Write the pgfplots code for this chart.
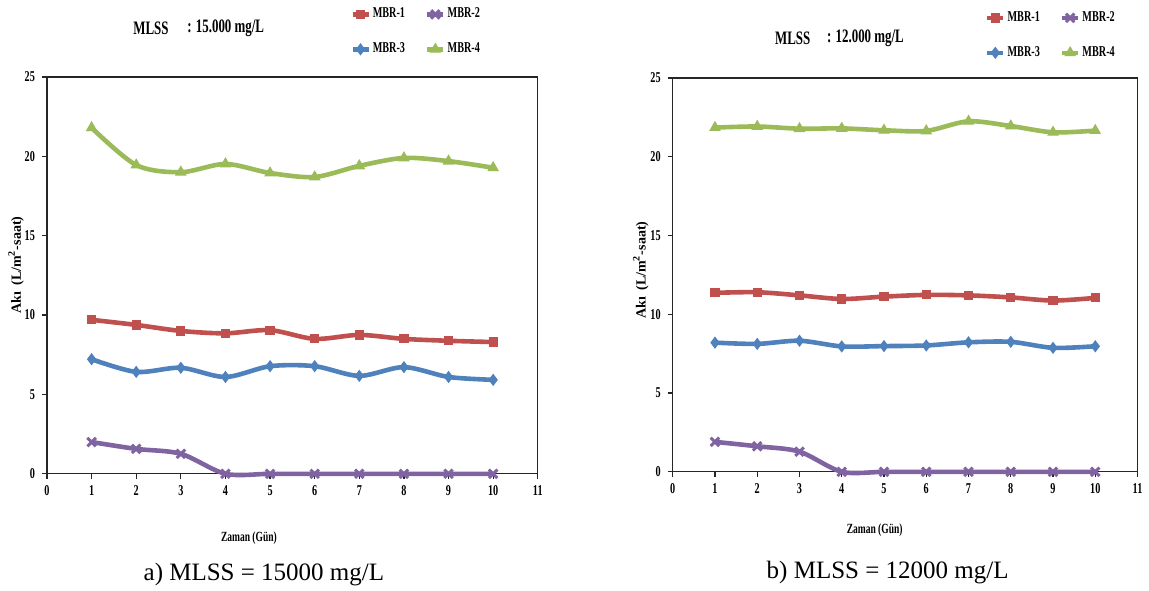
\documentclass[border=0pt]{standalone}
\usepackage{fontspec}
\setmainfont{Liberation Serif}
\newfontfamily\cf[FakeStretch=0.68]{Liberation Serif}
\usepackage{pgfplots}
\pgfplotsset{compat=1.18}

\definecolor{cR}{RGB}{192,80,77}
\definecolor{cP}{RGB}{128,100,162}
\definecolor{cB}{RGB}{79,129,189}
\definecolor{cG}{RGB}{155,187,89}

\pgfplotsset{
  mbr/.style={
    scale only axis,
    xmin=0, xmax=11, ymin=0, ymax=25,
    xtick={0,...,11}, ytick={0,5,...,25},
    axis line style={black!85, line width=0.6pt},
    tick style={black!85, line width=0.6pt},
    tick align=outside, major tick length=2.5pt,
    xtick pos=bottom, ytick pos=left,
    /pgf/number format/assume math mode=true,
    tick label style={font=\cf\bfseries\fontsize{7.5}{8}\selectfont},
    clip=false,
    legend columns=2,
    legend cell align=left,
    legend style={draw=none, fill=none, inner sep=0pt,
      font=\cf\bfseries\fontsize{7.5}{8}\selectfont,
      /tikz/every even column/.append style={column sep=9pt},
      row sep=9pt, nodes={inner sep=1pt}},
    legend image code/.code={\draw[mark repeat=2,mark phase=2,##1] plot coordinates {(0pt,0pt)(4pt,0pt)(8pt,0pt)};},
    every axis plot/.append style={line width=2.3pt, smooth, tension=0.5},
  },
  s1/.style={cR, mark=square*, mark size=2pt, mark options={line width=0.6pt}},
  s2/.style={cP, mark=x, mark size=3pt, mark options={line width=1.5pt}},
  s3/.style={cB, mark=diamond*, mark size=2.6pt, mark options={line width=0.6pt}},
  s4/.style={cG, mark=triangle*, mark size=2.8pt, mark options={line width=0.6pt}},
}

\begin{document}
\begin{tikzpicture}
\path (0,0) rectangle (574.5pt,295.5pt);

% a) MLSS = 15000 mg/L
\begin{axis}[mbr, at={(23.5pt,58.5pt)}, anchor=south west,
  width=245.5pt, height=198.5pt,
  legend style={at={(axis description cs:0.617,1.18)}, anchor=north west}]
\addplot[s1] coordinates {(1,9.7) (2,9.38) (3,9.0) (4,8.85) (5,9.05) (6,8.5) (7,8.75) (8,8.5) (9,8.38) (10,8.3)};
\addlegendentry{MBR-1}
\addplot[s2] coordinates {(1,2.0) (2,1.57) (3,1.26) (4,0) (5,0) (6,0) (7,0) (8,0) (9,0) (10,0)};
\addlegendentry{MBR-2}
\addplot[s3] coordinates {(1,7.22) (2,6.42) (3,6.68) (4,6.1) (5,6.78) (6,6.78) (7,6.17) (8,6.72) (9,6.1) (10,5.92)};
\addlegendentry{MBR-3}
\addplot[s4] coordinates {(1,21.8) (2,19.45) (3,19.0) (4,19.52) (5,18.95) (6,18.7) (7,19.4) (8,19.9) (9,19.7) (10,19.28)};
\addlegendentry{MBR-4}
\end{axis}

% b) MLSS = 12000 mg/L
\begin{axis}[mbr, at={(336.5pt,59.5pt)}, anchor=south west,
  width=232.5pt, height=197pt,
  legend style={at={(axis description cs:0.671,1.175)}, anchor=north west}]
\addplot[s1] coordinates {(1,11.36) (2,11.4) (3,11.2) (4,10.97) (5,11.12) (6,11.23) (7,11.2) (8,11.07) (9,10.87) (10,11.04)};
\addlegendentry{MBR-1}
\addplot[s2] coordinates {(1,1.9) (2,1.62) (3,1.28) (4,0) (5,0) (6,0) (7,0) (8,0) (9,0) (10,0)};
\addlegendentry{MBR-2}
\addplot[s3] coordinates {(1,8.2) (2,8.12) (3,8.32) (4,7.96) (5,7.98) (6,8.02) (7,8.22) (8,8.25) (9,7.87) (10,7.97)};
\addlegendentry{MBR-3}
\addplot[s4] coordinates {(1,21.85) (2,21.92) (3,21.78) (4,21.8) (5,21.68) (6,21.64) (7,22.25) (8,21.95) (9,21.55) (10,21.66)};
\addlegendentry{MBR-4}
\end{axis}

\begin{scope}[x=0.5pt, y=0.5pt]
  \node[anchor=west, inner sep=0pt, font=\cf\bfseries\fontsize{9.5}{11}\selectfont] at (133,563) {MLSS};
  \node[anchor=west, inner sep=0pt, font=\cf\bfseries\fontsize{9.5}{11}\selectfont] at (187,563) {: 15.000\,mg/L};
  \node[anchor=west, inner sep=0pt, font=\cf\bfseries\fontsize{9.5}{11}\selectfont] at (775,553) {MLSS};
  \node[anchor=west, inner sep=0pt, font=\cf\bfseries\fontsize{9.5}{11}\selectfont] at (827,553) {: 12.000\,mg/L};

  \node[rotate=90, inner sep=0pt, font=\bfseries\fontsize{7}{8}\selectfont] at (16,326) {Akı\, (L/m\textsuperscript{2}-saat)};
  \node[rotate=90, inner sep=0pt, font=\bfseries\fontsize{7}{8}\selectfont] at (641,321) {Akı\, (L/m\textsuperscript{2}-saat)};

  \node[inner sep=0pt, font=\cf\bfseries\fontsize{7}{8}\selectfont] at (249,53) {Zaman (Gün)};
  \node[inner sep=0pt, font=\cf\bfseries\fontsize{7}{8}\selectfont] at (875,61) {Zaman (Gün)};

  \node[inner sep=0pt, font=\fontsize{12.5}{14}\selectfont] at (264,16) {a) MLSS = 15000 mg/L};
  \node[inner sep=0pt, font=\fontsize{12.5}{14}\selectfont] at (888,18) {b) MLSS = 12000 mg/L};
\end{scope}
\end{tikzpicture}
\end{document}
